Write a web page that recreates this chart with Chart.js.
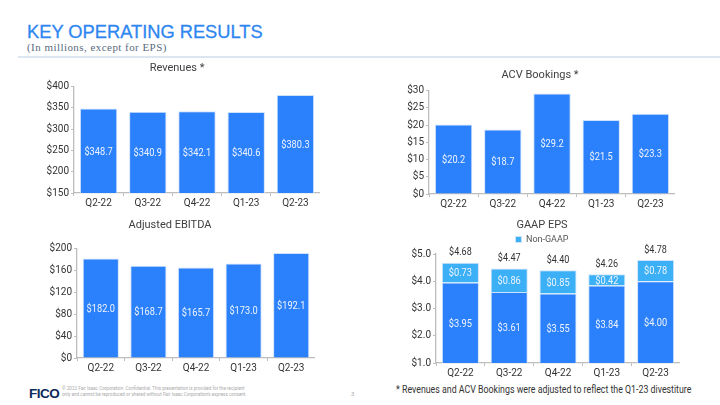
<!DOCTYPE html>
<html>
<head>
<meta charset="utf-8">
<script src="https://cdn.jsdelivr.net/npm/chart.js@4.4.1/dist/chart.umd.min.js"></script>
<style>
  html, body { margin: 0; padding: 0; background: #fff; }
  body { width: 720px; height: 405px; position: relative; overflow: hidden; font-family: Roboto, Arial, sans-serif; }
  .head { position: absolute; left: 27px; top: 21px; color: #2e86f0; font: 18.3px "Liberation Sans", Arial, sans-serif; -webkit-text-stroke: 0.3px #2e86f0; }
  .sub { position: absolute; left: 27px; top: 41px; color: #5a6b80; font: 11px "Liberation Serif", "Times New Roman", serif; letter-spacing: 0.45px; }
  .rule { position: absolute; left: 18px; top: 56px; width: 702px; height: 2px; background: #dbe6f2; }
  .box { position: absolute; }
  .fico { position: absolute; left: 29px; top: 386px; font: bold 13.5px "Liberation Sans", Arial, sans-serif; color: #0c2a5c; letter-spacing: -0.5px; }
  .legal { position: absolute; left: 62px; top: 386px; font: 4.6px Roboto, Arial, sans-serif; color: #aaa; line-height: 6px; }
  .page { position: absolute; left: 351px; top: 390px; font: 6px Roboto, sans-serif; color: #aaa; }
  .note { position: absolute; left: 396px; top: 383px; font: 11px Roboto, sans-serif; color: #333; white-space: nowrap; transform: scaleX(0.80); transform-origin: left top; }
</style>
</head>
<body>
<div class="head">KEY OPERATING RESULTS</div>
<div class="sub">(In millions, except for EPS)</div>
<div class="rule"></div>

<div class="box" style="left:34px;top:60px;width:286px;height:153px"><canvas id="rev"></canvas></div>
<div class="box" style="left:405px;top:62px;width:270px;height:152px"><canvas id="acv"></canvas></div>
<div class="box" style="left:25px;top:215px;width:290px;height:163px"><canvas id="ebitda"></canvas></div>
<div class="box" style="left:404px;top:215px;width:276px;height:168px"><canvas id="eps"></canvas></div>

<div class="fico">FICO</div>
<div class="legal">© 2022 Fair Isaac Corporation. Confidential. This presentation is provided for the recipient<br>only and cannot be reproduced or shared without Fair Isaac Corporation's express consent.</div>
<div class="page">3</div>
<div class="note">* Revenues and ACV Bookings were adjusted to reflect the Q1-23 divestiture</div>

<script>
// quarters shared by all four panels
const quarters = ['Q2-22', 'Q3-22', 'Q4-22', 'Q1-23', 'Q2-23'];

const revenues = [348.7, 340.9, 342.1, 340.6, 380.3];
const acvBookings = [20.2, 18.7, 29.2, 21.5, 23.3];
const ebitda = [182.0, 168.7, 165.7, 173.0, 192.1];
const gaapEps = [3.95, 3.61, 3.55, 3.84, 4.00];
const nonGaapAdj = [0.73, 0.86, 0.85, 0.42, 0.78];
const nonGaapTotal = [4.68, 4.47, 4.40, 4.26, 4.78];

const BLUE = '#2b80fb';
const LIGHT = '#3bb0f6';
const EDGE = '#cfe2fb';
const AXIS = '#bdbdbd';
const TXT = '#333';
const FONT = 'Roboto, Arial, sans-serif';

// squeeze text a bit, the deck uses a narrow face
function narrowText(ctx, text, x, y, squeeze) {
  ctx.save();
  ctx.translate(x, y);
  ctx.scale(squeeze, 1);
  ctx.fillText(text, 0, 0);
  ctx.restore();
}

// writes each value in the middle of the visible part of its bar, plus optional totals on top
const barLabels = {
  id: 'barLabels',
  afterDatasetsDraw(chart, args, opts) {
    const ctx = chart.ctx;
    const bottom = chart.chartArea.bottom;
    ctx.save();
    ctx.textAlign = 'center';
    ctx.textBaseline = 'middle';
    chart.data.datasets.forEach((ds, i) => {
      const meta = chart.getDatasetMeta(i);
      ctx.font = '11px ' + FONT;
      ctx.fillStyle = '#eef4ff';
      meta.data.forEach((bar, j) => {
        const mid = (bar.y + Math.min(bar.base, bottom)) / 2;
        narrowText(ctx, opts.fmt(ds.data[j]), bar.x, mid + 1, 0.84);
      });
    });
    if (opts.totals) {
      const last = chart.getDatasetMeta(chart.data.datasets.length - 1);
      ctx.font = '10.5px ' + FONT;
      ctx.fillStyle = TXT;
      last.data.forEach((bar, j) => {
        narrowText(ctx, opts.fmt(opts.totals[j]), bar.x, bar.y - 10, 0.86);
      });
    }
    ctx.restore();
  }
};

function makeChart(id, datasets, y, title, fmt, extra) {
  extra = extra || {};
  return new Chart(document.getElementById(id), {
    type: 'bar',
    data: { labels: quarters, datasets: datasets },
    plugins: [barLabels],
    options: {
      responsive: true,
      maintainAspectRatio: false,
      animation: false,
      layout: { padding: 0 },
      plugins: {
        legend: extra.legend || { display: false },
        tooltip: { enabled: false },
        title: {
          display: true, text: title, color: '#404040',
          font: { family: FONT, size: 11, weight: 'normal' },
          padding: { top: extra.titleTop, bottom: extra.titleBottom }
        },
        barLabels: { fmt: fmt, totals: extra.totals }
      },
      scales: {
        x: {
          stacked: true,
          afterFit: s => { s.height = 20; },
          border: { color: AXIS, width: 1.3 },
          grid: { drawOnChartArea: false, color: AXIS, tickLength: 3 },
          ticks: { color: TXT, padding: 1, font: { family: FONT, size: 10 } }
        },
        y: {
          stacked: true,
          min: y.min, max: y.max,
          afterFit: s => { s.width = extra.axisWidth; },
          border: { color: AXIS, width: 1.3 },
          grid: { drawOnChartArea: false, color: AXIS, tickLength: 3 },
          ticks: { color: TXT, padding: 2, stepSize: y.step, callback: y.tick, font: { family: FONT, size: 10 } }
        }
      }
    }
  });
}

function bars(label, data, color) {
  return {
    label: label, data: data, backgroundColor: color,
    borderColor: EDGE, borderWidth: 1,
    categoryPercentage: 0.8, barPercentage: 0.95
  };
}

const dollars1 = v => '$' + v.toFixed(1);
const dollars2 = v => '$' + v.toFixed(2);
const whole = v => '$' + v;

makeChart('rev', [bars('Revenues', revenues, BLUE)],
  { min: 150, max: 400, step: 50, tick: whole },
  'Revenues *', dollars1, { titleTop: 1.5, titleBottom: 12, axisWidth: 40 });

makeChart('acv', [bars('ACV Bookings', acvBookings, BLUE)],
  { min: 0, max: 30, step: 5, tick: whole },
  'ACV Bookings *', dollars1, { titleTop: 6.5, titleBottom: 9, axisWidth: 24 });

makeChart('ebitda', [bars('Adjusted EBITDA', ebitda, BLUE)],
  { min: 0, max: 200, step: 40, tick: whole },
  'Adjusted EBITDA', dollars1, { titleTop: 3.3, titleBottom: 17.2, axisWidth: 52 });

makeChart('eps', [bars('GAAP', gaapEps, BLUE), bars('Non-GAAP', nonGaapAdj, LIGHT)],
  { min: 1, max: 5, step: 1, tick: v => '$' + v.toFixed(1) },
  'GAAP EPS', dollars2, {
    titleTop: 3.3, titleBottom: 0, axisWidth: 32,
    totals: nonGaapTotal,
    legend: {
      display: true,
      labels: {
        boxWidth: 6, boxHeight: 6, padding: 3.5, color: '#555',
        font: { family: FONT, size: 9 },
        filter: item => item.text === 'Non-GAAP'
      }
    }
  });
</script>
</body>
</html>
